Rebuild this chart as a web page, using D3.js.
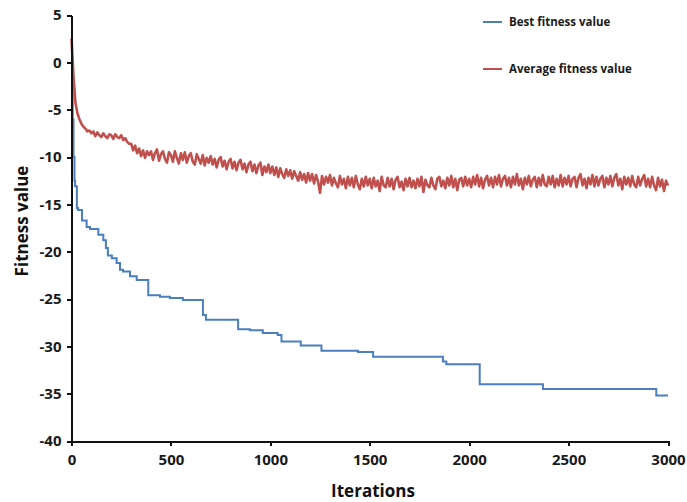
<!DOCTYPE html>
<html lang="en">
<head>
  <meta charset="UTF-8">
  <title>Fitness value vs iterations</title>
  <script src="https://d3js.org/d3.v7.min.js"></script>
  <style>
    body {
      margin: 0;
      background: #fff;
      font-family: "Open Sans", sans-serif;
    }

    .axis path,
    .axis line {
      stroke: #111;
      stroke-width: 2px;
      shape-rendering: crispEdges;
    }

    .axis text {
      font-family: "Open Sans", sans-serif;
      font-size: 15px;
      font-weight: 700;
      fill: #1a1a1a;
    }

    .label {
      font-size: 17px;
      font-weight: 700;
      fill: #111;
    }

    .legend text {
      font-size: 11.5px;
      font-weight: 700;
      fill: #1a1a1a;
    }
  </style>
</head>
<body>
  <script>
    // best fitness: step changes (iteration where the new best appears, value)
    const bestIter = [0, 3, 6, 10, 15, 18, 27, 33, 53, 76, 93, 135, 160, 173, 183, 203, 227, 244, 259, 294, 328, 386, 445, 495, 560, 661, 676, 838, 897, 962, 1037, 1056, 1153, 1257, 1441, 1517, 1868, 1885, 2053, 2371, 2941, 3000];
    const bestValue = [2.0, -2.0, -6.0, -10.0, -12.5, -13.1, -15.4, -15.6, -16.7, -17.4, -17.6, -18.2, -18.8, -19.6, -20.4, -20.7, -21.2, -21.9, -22.1, -22.6, -23.0, -24.6, -24.75, -24.9, -25.1, -26.7, -27.2, -28.2, -28.3, -28.6, -28.8, -29.5, -29.9, -30.46, -30.6, -31.1, -31.6, -31.9, -34.0, -34.5, -35.2, -35.2];

    // average fitness, one reading every 10 iterations (0 ... 3000)
    const avgStep = 10;
    const avgValue = [
      2.5, -1.5, -4.3, -5.4, -6.0, -6.5, -6.8, -7.0, -7.3, -7.2,
      -7.5, -7.3, -7.8, -7.4, -7.7, -7.9, -7.5, -7.8, -8.0, -7.6,
      -7.7, -8.1, -7.6, -7.9, -8.0, -7.7, -8.2, -8.0, -8.4, -8.6,
      -8.6, -9.3, -8.8, -9.6, -9.1, -9.9, -9.3, -10.1, -9.4, -9.8,
      -9.4, -10.3, -9.6, -9.2, -10.4, -9.7, -9.4, -10.2, -10.6, -9.5,
      -9.8, -10.5, -9.4, -10.1, -10.7, -9.6, -10.3, -9.5, -10.6, -9.9,
      -9.6, -10.5, -10.8, -9.7, -10.2, -10.7, -9.8, -10.9, -10.1, -10.6,
      -9.9, -10.8, -10.2, -11.1, -10.3, -10.0, -11.0, -10.4, -11.3, -10.5,
      -10.2, -11.2, -10.5, -11.4, -10.6, -10.3, -11.3, -10.7, -11.6, -10.8,
      -10.5, -11.5, -10.8, -11.7, -10.9, -10.6, -11.9, -11.0, -11.6, -10.8,
      -11.7, -11.0, -11.9, -11.1, -12.1, -11.2, -11.8, -12.2, -11.3, -12.0,
      -11.4, -12.3, -11.5, -12.0, -12.5, -11.6, -12.4, -11.8, -12.7, -11.7,
      -12.5, -11.8, -12.8, -11.9, -12.6, -13.8, -12.0, -12.9, -12.1, -12.7,
      -11.9, -13.0, -12.2, -12.8, -13.2, -12.0, -12.9, -12.3, -13.3, -12.1,
      -13.0, -12.2, -13.2, -12.0, -12.9, -13.4, -12.3, -13.1, -12.1, -13.0,
      -12.3, -13.3, -12.2, -13.1, -12.5, -13.6, -12.1, -13.0, -13.2, -12.2,
      -13.1, -12.3, -13.4, -12.4, -12.1, -13.2, -12.6, -13.5, -12.3, -13.1,
      -12.2, -13.2, -12.5, -13.3, -12.3, -13.1, -12.1, -13.7, -12.4, -13.0,
      -13.2, -12.2, -13.0, -13.4, -12.3, -12.1, -13.1, -12.5, -13.3, -12.2,
      -13.0, -12.0, -13.2, -12.3, -13.5, -12.4, -12.2, -13.1, -12.1, -13.0,
      -12.3, -13.2, -12.1, -12.9, -11.9, -13.1, -12.2, -13.3, -12.4, -12.0,
      -13.0, -12.2, -13.2, -12.1, -12.9, -11.9, -13.1, -12.3, -12.0, -13.0,
      -12.2, -13.2, -12.1, -12.9, -11.8, -13.0, -12.3, -13.4, -12.2, -12.9,
      -12.0, -13.1, -12.4, -12.1, -13.2, -12.2, -13.0, -11.9, -12.9, -13.1,
      -12.1, -12.9, -12.0, -13.2, -12.3, -13.0, -11.9, -13.1, -12.2, -12.9,
      -12.0, -13.1, -12.3, -12.1, -13.2, -12.2, -11.8, -13.0, -12.3, -13.3,
      -12.2, -12.9, -11.9, -13.1, -12.1, -13.0, -12.3, -12.0, -13.2, -12.2,
      -12.9, -12.0, -13.1, -12.2, -11.8, -13.0, -12.3, -13.4, -12.1, -12.9,
      -12.2, -13.1, -12.0, -12.9, -13.2, -12.1, -13.0, -12.3, -11.9, -13.1,
      -12.3, -13.2, -12.1, -13.0, -13.5, -12.2, -13.1, -12.4, -13.6, -12.5,
      -13.0
    ];

    const xTicks = [0, 500, 1000, 1500, 2000, 2500, 3000];
    const yTicks = [5, 0, -5, -10, -15, -20, -25, -30, -35, -40];
    const seriesNames = ["Best fitness value", "Average fitness value"];
    const seriesColors = ["#4a7ebf", "#c0504d"];

    const width = 687, height = 502;
    const margin = { top: 15, right: 19, bottom: 61, left: 71.5 };

    const svg = d3.select("body").append("svg")
      .attr("width", width)
      .attr("height", height);

    const x = d3.scaleLinear().domain([0, 3000]).range([margin.left, width - margin.right]);
    const y = d3.scaleLinear().domain([-40, 5]).range([height - margin.bottom, margin.top]);

    const best = bestIter.map((it, i) => [it, bestValue[i]]);
    const avg = avgValue.map((v, i) => [i * avgStep, v]);

    svg.append("path")
      .datum(avg)
      .attr("fill", "none")
      .attr("stroke", seriesColors[1])
      .attr("stroke-width", 2.6)
      .attr("stroke-linejoin", "round")
      .attr("d", d3.line().x(d => x(d[0])).y(d => y(d[1])));

    svg.append("path")
      .datum(best)
      .attr("fill", "none")
      .attr("stroke", seriesColors[0])
      .attr("stroke-width", 2)
      .attr("d", d3.line().curve(d3.curveStepAfter).x(d => x(d[0])).y(d => y(d[1])));

    // axes
    svg.append("g")
      .attr("class", "axis")
      .attr("transform", `translate(0,${height - margin.bottom})`)
      .call(d3.axisBottom(x).tickValues(xTicks).tickSize(5).tickSizeOuter(0).tickPadding(8).tickFormat(d3.format("d")));

    svg.append("g")
      .attr("class", "axis")
      .attr("transform", `translate(${margin.left},0)`)
      .call(d3.axisLeft(y).tickValues(yTicks).tickSize(5).tickSizeOuter(0).tickPadding(5).tickFormat(d => d));

    // axis titles
    svg.append("text")
      .attr("class", "label")
      .attr("x", 373)
      .attr("y", 497)
      .attr("text-anchor", "middle")
      .text("Iterations");

    svg.append("text")
      .attr("class", "label")
      .attr("transform", "translate(28,221) rotate(-90)")
      .attr("text-anchor", "middle")
      .text("Fitness value");

    // legend
    const legend = svg.append("g").attr("class", "legend");
    const legendY = [22, 69];
    seriesNames.forEach((name, i) => {
      legend.append("line")
        .attr("x1", 483).attr("x2", 502)
        .attr("y1", legendY[i]).attr("y2", legendY[i])
        .attr("stroke", seriesColors[i])
        .attr("stroke-width", 2);
      legend.append("text")
        .attr("x", 509)
        .attr("y", legendY[i])
        .attr("dy", "0.35em")
        .text(name);
    });
  </script>
</body>
</html>
